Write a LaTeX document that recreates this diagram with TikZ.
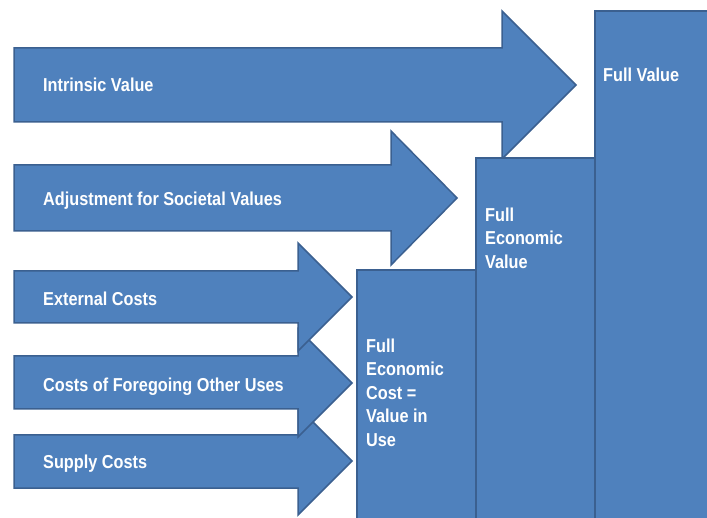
\documentclass[tikz,border=0pt]{standalone}
\usepackage{fontspec}
\newfontfamily\narrowsans{Liberation Sans}[FakeStretch=0.87]
\definecolor{blockblue}{HTML}{4F81BD}
\definecolor{blockedge}{HTML}{3B6090}
\tikzset{block/.style={fill=blockblue, draw=blockedge, line width=1.5pt, line join=miter}}
\tikzset{lbl/.style={text=white, font=\narrowsans\bfseries\fontsize{18.7}{23.5}\selectfont, inner sep=0pt, anchor=base west}}
\tikzset{boxlbl/.style={lbl, align=left, anchor=north west}}

\begin{document}
\begin{tikzpicture}[x=1pt, y=-1pt]
        \useasboundingbox (0,0) rectangle (707,518);
        \fill[white] (0,0) rectangle (707,518);
        \clip (0,0) rectangle (707,518);

        % cost and value arrows, bottom one first
        \draw[block] (14,435) -- (298,435) -- (298,407) -- (352,461) -- (298,515)
                -- (298,488) -- (14,488) -- cycle;
        \draw[block] (14,356) -- (298,356) -- (298,329) -- (352,383) -- (298,437)
                -- (298,409) -- (14,409) -- cycle;
        \draw[block] (14,271) -- (298,271) -- (298,243) -- (352,297) -- (298,351)
                -- (298,323) -- (14,323) -- cycle;
        \draw[block] (14,165) -- (391,165) -- (391,131) -- (457,198) -- (391,265)
                -- (391,231) -- (14,231) -- cycle;
        \draw[block] (14,48) -- (502,48) -- (502,11) -- (576,85) -- (502,159)
                -- (502,122) -- (14,122) -- cycle;

        \node[lbl] (supply) at (43,468) {Supply Costs};
        \node[lbl] (foregoing) at (43,392) {Costs of Foregoing Other Uses};
        \node[lbl] (external) at (43,306) {External Costs};
        \node[lbl] (societal) at (43,206) {Adjustment for Societal Values};
        \node[lbl] (intrinsic) at (43,92) {Intrinsic Value};

        % the three columns
        \draw[block] (357,270) rectangle (476,540);
        \draw[block] (476,158) rectangle (595,540);
        \draw[block] (595,11) rectangle (730,540);

        % tops of the column texts: baseline minus cap height
        \node[boxlbl] (fec) at (366,338.5) {Full\\ Economic\\ Cost =\\ Value in\\ Use};
        \node[boxlbl] (fev) at (485,207.5) {Full\\ Economic\\ Value};
        \node[lbl] (fv) at (603,82) {Full Value};

   \end{tikzpicture}
\end{document}
